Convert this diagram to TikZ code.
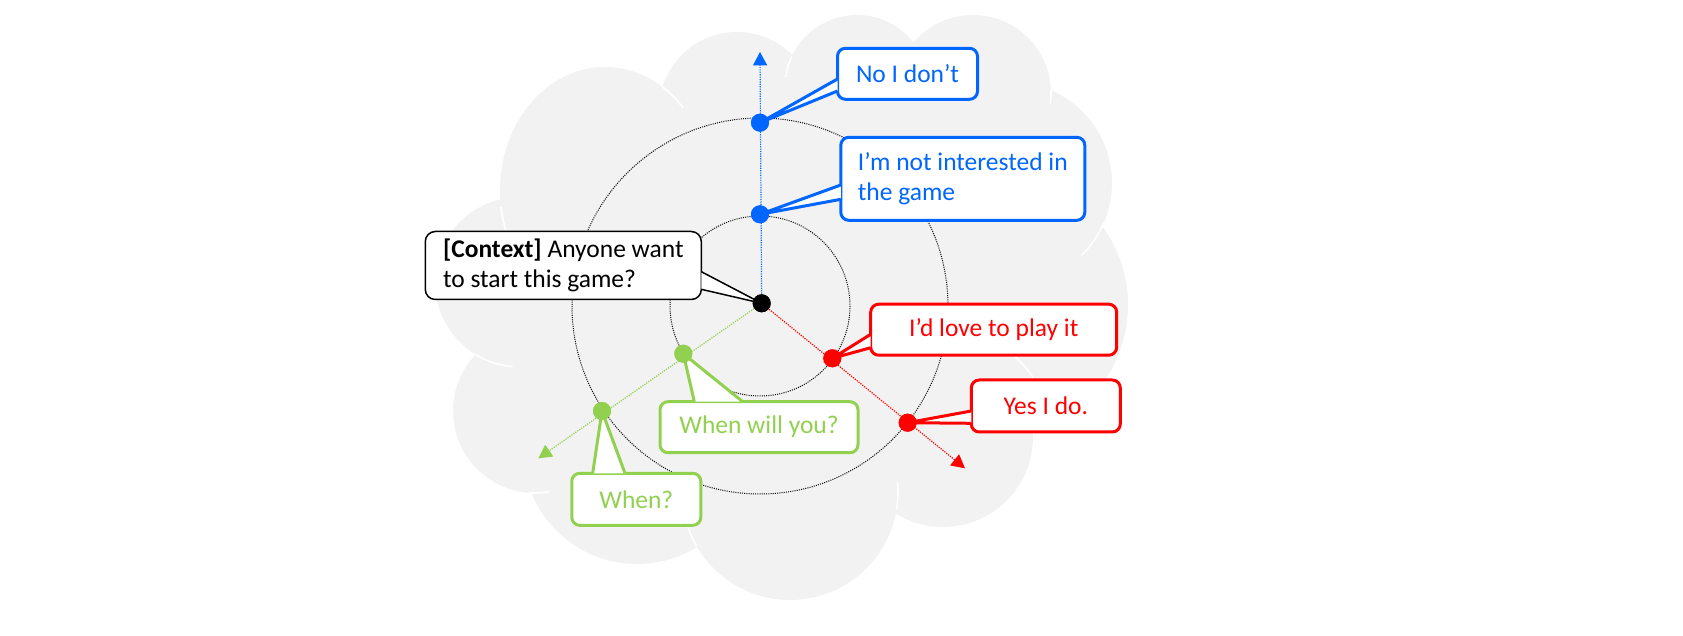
\documentclass[tikz,border=0pt]{standalone}
\usepackage{fontspec}
\setmainfont{Carlito}
\usetikzlibrary{arrows.meta,calc}
\definecolor{cloudgray}{RGB}{242,242,242}
\definecolor{ansblue}{RGB}{0,102,255}
\definecolor{ansred}{RGB}{255,0,0}
\definecolor{ansgreen}{RGB}{146,208,80}
% pointer of a callout: colour/width, two base points, tip
\newcommand\tail[4]{\draw[#1, fill=white, line join=miter] #2 -- #4 -- #3;}

\begin{document}
\begin{tikzpicture}[x=0.5pt, y=-0.5pt,
    every node/.style={font=\fontsize{12.75pt}{15.25pt}\selectfont},
    bubble/.style={draw=#1, text=#1, fill=white, line width=1.5pt, rounded corners=4pt, inner sep=0pt, align=left},
    ctxbox/.style={draw=black, fill=white, line width=0.75pt, rounded corners=5pt, inner sep=0pt, align=left},
    ansdot/.style={circle, fill=#1, inner sep=0pt, minimum size=9pt},
    ring/.style={black, line width=0.5pt, dash pattern=on 0.5pt off 0.6pt},
    seam/.style={white, line width=0.8pt},
    ray/.style={draw=#1, line width=0.6pt, dash pattern=on 0.6pt off 0.6pt, -{Triangle[length=6.7pt,width=7pt,fill=#1]}}]
    \useasboundingbox (0,0) rectangle (1683,636);

    % cloud
    \fill[cloudgray] (605,190) ellipse[x radius=105, y radius=123]
        (737,110) circle[radius=78] (857,87) circle[radius=72]
        (973,93) circle[radius=78] (1011,183) circle[radius=101]
        (995,305) circle[radius=133] (943,437) circle[radius=90]
        (790,492) circle[radius=108] (637,450) circle[radius=114]
        (535,411) circle[radius=82] (520,282) circle[radius=85]
        (780,300) ellipse[x radius=260, y radius=200];
    % inner seams of the cloud
    \draw[seam] (605,190) ++(172:105 and 123) arc[start angle=172, end angle=158, x radius=105, y radius=123];
    \draw[seam] (605,190) ++(303:105 and 123) arc[start angle=303, end angle=318, x radius=105, y radius=123];
    \draw[seam] (857,87) ++(205:72) arc[start angle=205, end angle=188, radius=72];
    \draw[seam] (973,93) ++(-2:78) arc[start angle=-2, end angle=8, radius=78];
    \draw[seam] (1011,183) ++(23:101) arc[start angle=23, end angle=46, radius=101];
    \draw[seam] (943,437) ++(-48:108) arc[start angle=-48, end angle=-33, radius=108];
    \draw[seam] (790,492) ++(-5:108) arc[start angle=-5, end angle=9, radius=108];
    \draw[seam] (790,492) ++(161:108) arc[start angle=161, end angle=150, radius=108];
    \draw[seam] (520,282) ++(122:85) arc[start angle=122, end angle=95, radius=85];
    \draw[seam] (535,411) ++(94:82) arc[start angle=94, end angle=80, radius=82];

    % rings and rays
    \coordinate (hub) at (760,306);
    \draw[ring] (hub) circle[radius=90];
    \draw[ring] (hub) circle[radius=188];
    \node[ansdot=black] (ctr) at (761.7,303.3) {};
    \coordinate (upend) at (760,52);
    \coordinate (redend) at (965,468.3);
    \coordinate (greenend) at (538.3,458.3);
    \draw[ray=ansblue] (ctr.center) -- (upend);
    \draw[ray=ansred] (ctr.center) -- (redend);
    \draw[ray=ansgreen] (ctr.center) -- (greenend);

    % callouts
    \node[ctxbox, minimum width=138pt, minimum height=34pt] (ctx) at (563.3,265.5)
        {\textbf{[Context]} Anyone want\\to start this game?};
    \node[bubble=ansblue, minimum width=70pt, minimum height=25.5pt] (nodont) at (907.5,73.8) {No I don’t};
    \node[bubble=ansblue, minimum width=122pt, minimum height=41.5pt] (notint) at (962.8,178.8)
        {I’m not interested in\\the game};
    \node[bubble=ansred, minimum width=123pt, minimum height=25.5pt] (love) at (993.7,329.7) {I’d love to play it};
    \node[bubble=ansred, minimum width=74.5pt, minimum height=26pt] (yes) at (1045.8,406) {Yes I do.};
    \node[bubble=ansgreen, minimum width=99pt, minimum height=25.5pt] (will) at (759,427.2) {When will you?};
    \node[bubble=ansgreen, minimum width=64.5pt, minimum height=26pt] (when) at (636.3,499.3) {When?};

    % answer points
    \node[ansdot=ansblue] (blo) at (760,122.7) {};
    \node[ansdot=ansblue] (bli) at (760,214.3) {};
    \node[ansdot=ansred] (rdi) at (832.3,358.3) {};
    \node[ansdot=ansred] (rdo) at (907.7,422.7) {};
    \node[ansdot=ansgreen] (gri) at (683.3,353.7) {};
    \node[ansdot=ansgreen] (gro) at (602,411) {};

    \tail{black, line width=0.75pt}{($(ctx.east |- 0,271.7)+(-0.75,0)$)}{($(ctx.east |- 0,289.3)+(-0.75,0)$)}{(ctr.center)}
    \tail{ansblue, line width=1.5pt}{($(nodont.west |- 0,79)+(1.5,0)$)}{($(nodont.west |- 0,91)+(1.5,0)$)}{(blo.center)}
    \tail{ansblue, line width=1.5pt}{($(notint.west |- 0,185)+(1.5,0)$)}{($(notint.west |- 0,199.3)+(1.5,0)$)}{(bli.center)}
    \tail{ansred, line width=1.5pt}{($(love.west |- 0,334.3)+(1.5,0)$)}{($(love.west |- 0,347.7)+(1.5,0)$)}{(rdi.center)}
    \tail{ansred, line width=1.5pt}{($(yes.west |- 0,411)+(1.5,0)$)}{($(yes.west |- 0,423.3)+(1.5,0)$)}{(rdo.center)}
    \tail{ansgreen, line width=1.5pt}{($(694.3,0 |- will.north)+(0,1.5)$)}{($(742.7,0 |- will.north)+(0,1.5)$)}{(gri.center)}
    \tail{ansgreen, line width=1.5pt}{($(592.7,0 |- when.north)+(0,1.5)$)}{($(625,0 |- when.north)+(0,1.5)$)}{(gro.center)}

    % dots on top of the pointers
    \foreach \d/\c in {ctr/black, blo/ansblue, bli/ansblue, rdi/ansred, rdo/ansred, gri/ansgreen, gro/ansgreen}
        \fill[\c] (\d.center) circle[radius=9];
\end{tikzpicture}
\end{document}
